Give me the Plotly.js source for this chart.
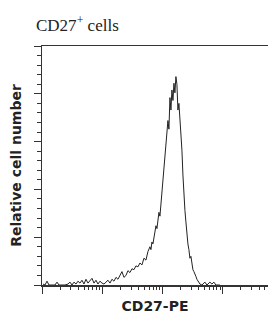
<!DOCTYPE html>
<html>
<head>
<meta charset="utf-8">
<script src="https://cdn.plot.ly/plotly-3.0.1.min.js"></script>
<style>html,body{margin:0;padding:0;background:#fff;}#chart{width:268px;height:314px;}</style>
</head>
<body>
<div id="chart"></div>
<script>
// CD27-PE fluorescence intensity (log scale) and relative cell counts
var intensity = [1.039, 1.121, 1.210, 1.306, 1.465, 1.643, 1.774, 1.914, 2.146, 2.407, 2.700, 2.913, 3.144, 3.394, 3.663, 3.954, 4.268, 4.606, 4.972, 5.366, 5.793, 6.252, 6.750, 7.285, 7.862, 8.487, 9.161, 9.886, 10.67, 11.52, 12.43, 13.42, 14.48, 15.63, 16.88, 18.21, 19.66, 21.22, 22.90, 24.72, 26.68, 28.80, 31.09, 33.56, 36.22, 39.09, 42.20, 45.55, 49.16, 53.07, 57.28, 61.82, 64.23, 66.73, 69.33, 72.03, 74.83, 77.74, 80.77, 83.91, 87.18, 90.58, 94.10, 97.73, 101.5, 105.5, 109.6, 113.9, 118.3, 122.9, 127.7, 132.7, 137.8, 143.2, 148.8, 154.6, 160.6, 166.8, 173.3, 180.1, 187.1, 194.4, 201.9, 209.8, 218.0, 226.4, 235.3, 244.4, 253.9, 263.8, 274.1, 284.7, 295.8, 307.3, 319.3, 331.7, 344.6, 358.0, 371.9, 386.4, 401.4, 417.1, 450.2, 504.9, 544.9, 611.1, 659.6, 711.9, 768.4, 895.1];
var cellCount = [1, 0, 4, 0, 0, 0, 3, 0, 0, 0, 1, 3, 0, 3, 1, 4, 2, 5, 1, 6, 2, 4, 7, 2, 5, 1, 4, 2, 1, 3, 5, 2, 6, 4, 8, 6, 11, 14, 8, 10, 15, 13, 17, 16, 20, 19, 23, 21, 28, 26, 35, 40, 37, 45, 43, 51, 55, 62, 59, 68, 76, 72, 84, 91, 105, 118, 131, 143, 157, 172, 163, 196, 183, 204, 193, 211, 201, 218, 210, 183, 190, 173, 164, 141, 115, 91, 78, 66, 53, 43, 37, 28, 30, 22, 16, 14, 10, 9, 6, 4, 2, 1, 0, 3, 0, 3, 1, 3, 0, 0];
var xMajorTicks = [1, 10, 100, 1000];
var titleText = 'CD27<sup>+</sup> cells';
var xTitle = 'CD27-PE';
var yTitle = 'Relative cell number';

var trace = {
  x: intensity, y: cellCount, type: 'scatter', mode: 'lines',
  line: {color: '#222222', width: 1, shape: 'linear'},
  hoverinfo: 'skip'
};

var layout = {
  width: 268, height: 314,
  margin: {l: 42, r: 0, t: 46, b: 29},
  paper_bgcolor: '#ffffff', plot_bgcolor: '#ffffff',
  showlegend: false,
  title: {
    text: titleText, x: 36/268, xanchor: 'left', xref: 'container',
    y: 1 - 25/314, yanchor: 'middle', yref: 'container',
    font: {family: 'Liberation Serif', size: 17, color: '#222222'}
  },
  xaxis: {
    type: 'log', range: [0, 3.75],
    tickmode: 'array', tickvals: xMajorTicks, showticklabels: false,
    ticks: 'outside', ticklen: 7, tickwidth: 1, tickcolor: '#333',
    minor: {dtick: 'D1', ticks: 'outside', ticklen: 3, tickwidth: 1, tickcolor: '#333'},
    showgrid: false, zeroline: false,
    showline: true, linecolor: '#333', linewidth: 1.5, mirror: true,
    title: {text: xTitle, font: {family: 'DejaVu Sans', size: 14, weight: 700, color: '#222222'}, standoff: 8}
  },
  yaxis: {
    range: [0, 250], dtick: 50, tick0: 0, showticklabels: false,
    ticks: 'outside', ticklen: 7, tickwidth: 1, tickcolor: '#333',
    minor: {dtick: 10, ticks: 'outside', ticklen: 4, tickwidth: 1, tickcolor: '#333'},
    showgrid: false, zeroline: false,
    showline: true, linecolor: '#333', linewidth: 1.5,
    title: {text: yTitle, font: {family: 'DejaVu Sans', size: 14, weight: 700, color: '#222222'}, standoff: 8}
  }
};

Plotly.newPlot('chart', [trace], layout, {staticPlot: true, displayModeBar: false});
</script>
</body>
</html>
